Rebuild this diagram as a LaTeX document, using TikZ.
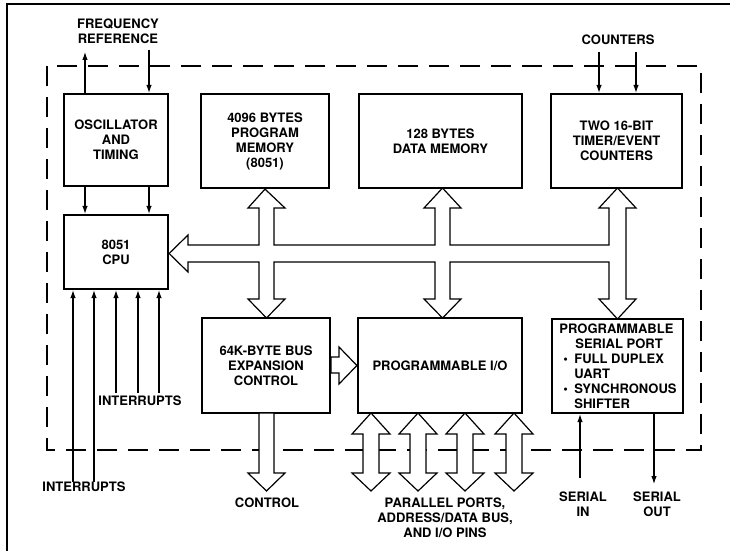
\documentclass[tikz,border=0pt]{standalone}
\usepackage{fontspec}
\setmainfont{TeX Gyre Heros}
\usetikzlibrary{arrows.meta}
\begin{document}
\begin{tikzpicture}[x=1pt,y=-1pt,
  txt/.style={font=\fontsize{13}{15}\selectfont\bfseries,align=center,inner sep=0pt},
  box/.style={txt,draw,line width=2.2pt},
  arr/.style={line width=1.1pt,-{Latex[length=8pt,width=5.5pt]}},
  hollow/.style={draw,line width=1.2pt,fill=white,line join=miter},
  border/.style={line width=2.4pt,dash pattern=on 20pt off 11pt}]
\useasboundingbox (0,0) rectangle (730,551);
% outer frame (cropped)
\draw[line width=2pt] (7,551) -- (7,4) -- (730,4);
% dashed chip border
\draw[border] (47,66) rectangle (701,450);

% boxes
\node[box,minimum width=104pt,minimum height=92pt] (osc) at (116,140) {OSCILLATOR\\AND\\TIMING};
\node[box,minimum width=128pt,minimum height=94pt] (prog) at (265,141) {4096 BYTES\\PROGRAM\\MEMORY\\(8051)};
\node[box,minimum width=163pt,minimum height=94pt] (data) at (440.5,141) {128 BYTES\\DATA MEMORY};
\node[box,minimum width=131pt,minimum height=94pt] (timer) at (616.5,141) {TWO 16-BIT\\TIMER/EVENT\\COUNTERS};
\node[box,minimum width=104pt,minimum height=74pt] (cpu) at (116,252) {8051\\CPU};
\node[box,minimum width=128pt,minimum height=95pt] (bus) at (266,365.5) {64K-BYTE BUS\\EXPANSION\\CONTROL};
\node[box,minimum width=164pt,minimum height=95pt] (io) at (440,365.5) {PROGRAMMABLE I/O};
\node[box,minimum width=131pt,minimum height=94pt] (ser) at (617.5,366) {};
\node[txt,align=left] (sertxt) at (618,366) {PROGRAMMABLE\\
\hspace*{16pt}SERIAL PORT\\
\hspace*{4pt}\makebox[11pt][l]{\textbullet}FULL DUPLEX\\
\hspace*{15pt}UART\\
\hspace*{4pt}\makebox[11pt][l]{\textbullet}SYNCHRONOUS\\
\hspace*{15pt}SHIFTER};

% external labels
\node[txt] (freq) at (118,31.5) {FREQUENCY\\REFERENCE};
\node[txt] (cnt) at (618,40) {COUNTERS};
\node[txt] (int1) at (140,401) {INTERRUPTS};
\node[txt] (int2) at (84,487) {INTERRUPTS};
\node[txt] (ctl) at (267,503) {CONTROL};
\node[txt] (par) at (445,518) {PARALLEL PORTS,\\ADDRESS/DATA BUS,\\AND I/O PINS};
\node[txt] (sin) at (583,504.5) {SERIAL\\IN};
\node[txt] (sout) at (657,504.5) {SERIAL\\OUT};

% free ends
\coordinate (fo) at (85,52);
\coordinate (fi) at (149,50);
\coordinate (c1) at (599,52);
\coordinate (c2) at (636,52);
\coordinate (si) at (580,478);
\coordinate (so) at (654,484);
\coordinate (i1) at (73,482);
\coordinate (i2) at (94,482);
\coordinate (i3) at (116,393);
\coordinate (i4) at (138,393);
\coordinate (i5) at (159,393);

% thin arrows
\draw[arr] (fo |- osc.north) -- (fo);
\draw[arr] (fi) -- (fi |- osc.north);
\draw[arr] (c1) -- (c1 |- timer.north);
\draw[arr] (c2) -- (c2 |- timer.north);
\draw[arr] (fo |- osc.south) -- (fo |- cpu.north);
\draw[arr] (fi |- osc.south) -- (fi |- cpu.north);
\foreach \i in {i1,i2,i3,i4,i5} \draw[arr] (\i) -- (\i |- cpu.south);
\draw[arr] (si) -- (si |- ser.south);
\draw[arr] (so |- ser.south) -- (so);

% internal bus (hollow)
\draw[hollow] (cpu.east |- 0,253.5) -- (188,235) -- (188,245) -- (259,245) -- (259,208) -- (248,208) -- (prog.south) -- (285,208) -- (274,208) -- (274,245)
  -- (435,245) -- (435,208) -- (424,208) -- (442.5,188) -- (461,208) -- (450,208) -- (450,245)
  -- (609,245) -- (609,208) -- (599,208) -- (617.5,188) -- (636,208) -- (626,208)
  -- (626,299) -- (636,299) -- (617.5,319) -- (599,299) -- (609,299) -- (609,262)
  -- (450,262) -- (450,299) -- (461,299) -- (442.5,318) -- (424,299) -- (435,299) -- (435,262)
  -- (274,262) -- (274,299) -- (285,299) -- (266.5,318) -- (248,299) -- (259,299) -- (259,262)
  -- (188,262) -- (188,272) -- cycle;

% bus expansion -> programmable I/O
\draw[hollow] (bus.east |- 0,357) -- (339,357) -- (339,347) -- (io.west) -- (339,384) -- (339,373) -- (bus.east |- 0,373) -- cycle;
% control out
\draw[hollow] (259,413) -- (259,473) -- (248,473) -- (266.5,491) -- (285,473) -- (274,473) -- (274,413) -- cycle;
% parallel ports (double arrows)
\foreach \c in {371,418,465,514}{
  \draw[hollow] (\c,413) -- (\c+19,434) -- (\c+8,434) -- (\c+8,473) -- (\c+19,473) -- (\c,491)
    -- (\c-19,473) -- (\c-8,473) -- (\c-8,434) -- (\c-19,434) -- cycle;
}
\end{tikzpicture}
\end{document}
